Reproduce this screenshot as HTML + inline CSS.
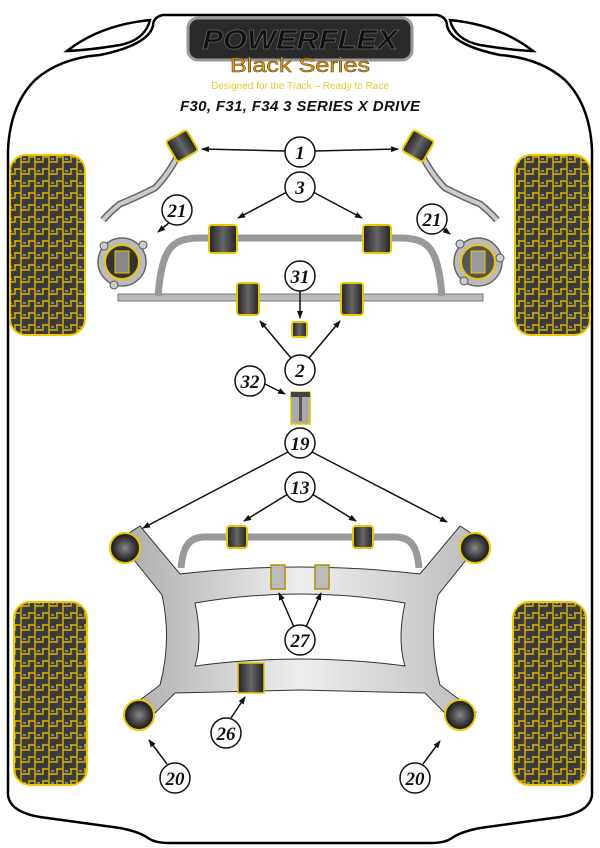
<!DOCTYPE html>
<html><head><meta charset="utf-8"><style>
html,body{margin:0;padding:0;background:#fff}
svg{display:block}
.lbl{font-family:"Liberation Serif",serif;font-weight:bold;font-style:italic;font-size:19px;text-anchor:middle}
</style></head><body>
<svg width="600" height="848" viewBox="0 0 600 848" xmlns="http://www.w3.org/2000/svg">
<defs>
<pattern id="tread" width="14" height="12" patternUnits="userSpaceOnUse">
<rect width="14" height="12" fill="#3b3b3b"/>
<path d="M0 1 H7 V6 H14 M7 6 V12 M1 1 V7" stroke="#d9b400" stroke-width="1.4" fill="none"/>
<path d="M9 3 h3" stroke="#ccc" stroke-width="1"/>
</pattern>
<marker id="ah" markerWidth="8" markerHeight="8" refX="7" refY="4" orient="auto" markerUnits="userSpaceOnUse"><path d="M0 1 L8 4 L0 7 Z" fill="#111"/></marker>
<radialGradient id="mt"><stop offset="0" stop-color="#888"/><stop offset="1" stop-color="#111"/></radialGradient>
<linearGradient id="bush" x1="0" x2="1"><stop offset="0" stop-color="#222"/><stop offset=".5" stop-color="#666"/><stop offset="1" stop-color="#222"/></linearGradient>
<linearGradient id="sf" x1="0" x2="1"><stop offset="0" stop-color="#aaa"/><stop offset=".5" stop-color="#eee"/><stop offset="1" stop-color="#bbb"/></linearGradient>
</defs>

<path d="M163 15 L437 15 Q447 17 447 26 Q452 45 500 55 Q540 58 565 80 Q590 105 592 150 L592 795 Q590 812 560 817 L480 828 Q460 832 452 838 Q445 843 430 843 L170 843 Q155 843 148 838 Q140 832 120 828 L40 817 Q10 812 8 795 L8 150 Q10 105 35 80 Q60 58 100 55 Q148 45 153 26 Q153 17 163 15 Z" fill="none" stroke="#000" stroke-width="2.5"/>
<path d="M67 51 Q100 25 150 20 Q145 40 120 45 Q90 50 67 51 Z" fill="none" stroke="#000" stroke-width="2.5"/>
<path d="M533 51 Q500 25 450 20 Q455 40 480 45 Q510 50 533 51 Z" fill="none" stroke="#000" stroke-width="2.5"/>

<rect x="10" y="155" width="75" height="180" rx="16" fill="url(#tread)" stroke="#f0c800" stroke-width="2"/>
<rect x="515" y="155" width="75" height="180" rx="16" fill="url(#tread)" stroke="#f0c800" stroke-width="2"/>
<rect x="14" y="602" width="73" height="183" rx="16" fill="url(#tread)" stroke="#f0c800" stroke-width="2"/>
<rect x="513" y="602" width="73" height="183" rx="16" fill="url(#tread)" stroke="#f0c800" stroke-width="2"/>

<rect x="188" y="18" width="224" height="42" rx="10" fill="#2a2a2a" stroke="#999" stroke-width="3"/>
<text x="300" y="49" font-family="Liberation Sans,sans-serif" font-weight="bold" font-style="italic" font-size="28" text-anchor="middle" fill="#111" stroke="#666" stroke-width=".7" textLength="195" lengthAdjust="spacingAndGlyphs">POWERFLEX</text>
<text x="300" y="72" font-family="Liberation Sans,sans-serif" font-size="20" text-anchor="middle" fill="#e09a20" stroke="#5a3a00" stroke-width=".5" textLength="140" lengthAdjust="spacingAndGlyphs">Black Series</text>
<text x="300" y="89" font-family="Liberation Sans,sans-serif" font-size="10" text-anchor="middle" fill="#e8c830">Designed for the Track – Ready to Race</text>
<text x="300" y="111" font-family="Liberation Sans,sans-serif" font-weight="bold" font-style="italic" font-size="15" text-anchor="middle" fill="#111" textLength="240">F30, F31, F34 3 SERIES X DRIVE</text>

<path d="M180 152 Q168 175 155 188 Q135 198 120 204 Q110 212 103 220" stroke="#666" stroke-width="7" fill="none"/>
<path d="M180 152 Q168 175 155 188 Q135 198 120 204 Q110 212 103 220" stroke="#ccc" stroke-width="4" fill="none"/>
<path d="M420 152 Q432 175 445 188 Q465 198 480 204 Q490 212 497 220" stroke="#666" stroke-width="7" fill="none"/>
<path d="M420 152 Q432 175 445 188 Q465 198 480 204 Q490 212 497 220" stroke="#ccc" stroke-width="4" fill="none"/>
<g transform="rotate(-30 182 146)"><rect x="170" y="134" width="24" height="24" rx="3" fill="url(#bush)" stroke="#e8c800" stroke-width="2"/></g>
<g transform="rotate(30 418 146)"><rect x="406" y="134" width="24" height="24" rx="3" fill="url(#bush)" stroke="#e8c800" stroke-width="2"/></g>

<g>
<circle cx="122" cy="262" r="24" fill="#bbb" stroke="#666" stroke-width="1.5"/>
<circle cx="104" cy="246" r="4" fill="#ccc" stroke="#555"/><circle cx="143" cy="245" r="4" fill="#ccc" stroke="#555"/><circle cx="114" cy="285" r="4" fill="#ccc" stroke="#555"/>
<circle cx="122" cy="262" r="17" fill="#333" stroke="#e8c800" stroke-width="2"/>
<rect x="115" y="251" width="14" height="22" fill="#888" stroke="#e8c800"/>
</g>
<g>
<circle cx="478" cy="262" r="24" fill="#bbb" stroke="#666" stroke-width="1.5"/>
<circle cx="460" cy="244" r="4" fill="#ccc" stroke="#555"/><circle cx="500" cy="258" r="4" fill="#ccc" stroke="#555"/><circle cx="464" cy="281" r="4" fill="#ccc" stroke="#555"/>
<circle cx="478" cy="262" r="17" fill="#555" stroke="#e8c800" stroke-width="2"/>
<rect x="471" y="251" width="14" height="22" fill="#999" stroke="#e8c800"/>
</g>

<rect x="118" y="294" width="365" height="7" fill="#bbb" stroke="#777"/>
<path d="M158 296 C162 250 170 238 200 238 L400 238 C430 238 438 250 442 296" stroke="#999" stroke-width="7" fill="none"/>
<rect x="209" y="225" width="28" height="28" rx="3" fill="url(#bush)" stroke="#e8c800" stroke-width="2"/>
<rect x="363" y="225" width="28" height="28" rx="3" fill="url(#bush)" stroke="#e8c800" stroke-width="2"/>
<rect x="237" y="283" width="22" height="32" rx="3" fill="url(#bush)" stroke="#e8c800" stroke-width="2"/>
<rect x="341" y="283" width="22" height="32" rx="3" fill="url(#bush)" stroke="#e8c800" stroke-width="2"/>
<rect x="292" y="322" width="15" height="15" rx="2" fill="url(#bush)" stroke="#e8c800" stroke-width="2"/>
<rect x="291" y="392" width="19" height="32" fill="#aaa" stroke="#e8c800" stroke-width="1.5"/>
<rect x="291" y="392" width="19" height="5" fill="#444"/>
<rect x="299" y="397" width="3" height="24" fill="#555"/>

<path fill-rule="evenodd" fill="url(#sf)" stroke="#333" stroke-width="1" d="M118 540 L140 526 L180 574 Q300 560 420 574 L460 526 L482 540 L438 595 Q428 640 440 685 L476 712 L458 726 L425 693 L300 690 L175 693 L142 726 L124 712 L160 685 Q172 640 162 595 Z M195 603 Q300 585 405 603 Q397 640 405 666 Q300 652 195 666 Q203 640 195 603 Z"/>
<path d="M181 568 C183 545 190 537 205 537 L395 537 C410 537 417 545 419 568" stroke="#999" stroke-width="7" fill="none"/>
<rect x="227" y="526" width="20" height="22" rx="3" fill="url(#bush)" stroke="#e8c800" stroke-width="2"/>
<rect x="353" y="526" width="20" height="22" rx="3" fill="url(#bush)" stroke="#e8c800" stroke-width="2"/>
<rect x="271" y="565" width="14" height="24" fill="#bbb" stroke="#b09000" stroke-width="1.5"/>
<rect x="315" y="565" width="14" height="24" fill="#bbb" stroke="#b09000" stroke-width="1.5"/>
<rect x="238" y="663" width="26" height="30" fill="url(#bush)" stroke="#e8c800" stroke-width="1.5"/>
<circle cx="125" cy="548" r="15" fill="url(#mt)" stroke="#e8c800" stroke-width="2"/>
<circle cx="475" cy="548" r="15" fill="url(#mt)" stroke="#e8c800" stroke-width="2"/>
<circle cx="139" cy="715" r="15" fill="url(#mt)" stroke="#e8c800" stroke-width="2"/>
<circle cx="460" cy="715" r="15" fill="url(#mt)" stroke="#e8c800" stroke-width="2"/>

<g stroke="#111" stroke-width="1.5" fill="none" marker-end="url(#ah)">
<line x1="285" y1="151" x2="202" y2="149"/><line x1="315" y1="151" x2="398" y2="149"/>
<line x1="287" y1="192" x2="238" y2="218"/><line x1="313" y1="192" x2="362" y2="218"/>
<line x1="170" y1="222" x2="158" y2="232"/><line x1="442" y1="228" x2="450" y2="234"/>
<line x1="300" y1="291" x2="300" y2="318"/>
<line x1="291" y1="358" x2="260" y2="321"/><line x1="309" y1="358" x2="340" y2="321"/>
<line x1="265" y1="384" x2="285" y2="394"/>
<line x1="288" y1="452" x2="143" y2="528"/><line x1="312" y1="452" x2="447" y2="522"/>
<line x1="288" y1="494" x2="244" y2="521"/><line x1="312" y1="494" x2="356" y2="521"/>
<line x1="294" y1="627" x2="279" y2="593"/><line x1="306" y1="627" x2="321" y2="593"/>
<line x1="231" y1="718" x2="245" y2="697"/>
<line x1="167" y1="764" x2="149" y2="740"/><line x1="423" y1="764" x2="440" y2="741"/>
</g>

<g fill="#fff" stroke="#111" stroke-width="1.5">
<circle cx="300" cy="152" r="15"/><circle cx="300" cy="187" r="15"/>
<circle cx="177" cy="210" r="15"/><circle cx="432" cy="219" r="15"/>
<circle cx="300" cy="276" r="15"/><circle cx="300" cy="370" r="15"/>
<circle cx="250" cy="381" r="15"/><circle cx="300" cy="443" r="15"/>
<circle cx="300" cy="487" r="15"/><circle cx="300" cy="640" r="15"/>
<circle cx="226" cy="733" r="15"/><circle cx="175" cy="778" r="15"/>
<circle cx="415" cy="778" r="15"/>
</g>
<g fill="#111">
<text class="lbl" x="300" y="159">1</text><text class="lbl" x="300" y="194">3</text>
<text class="lbl" x="177" y="217">21</text><text class="lbl" x="432" y="226">21</text>
<text class="lbl" x="300" y="283">31</text><text class="lbl" x="300" y="377">2</text>
<text class="lbl" x="250" y="388">32</text><text class="lbl" x="300" y="450">19</text>
<text class="lbl" x="300" y="494">13</text><text class="lbl" x="300" y="647">27</text>
<text class="lbl" x="226" y="740">26</text><text class="lbl" x="175" y="785">20</text>
<text class="lbl" x="415" y="785">20</text>
</g>
</svg>
</body></html>
